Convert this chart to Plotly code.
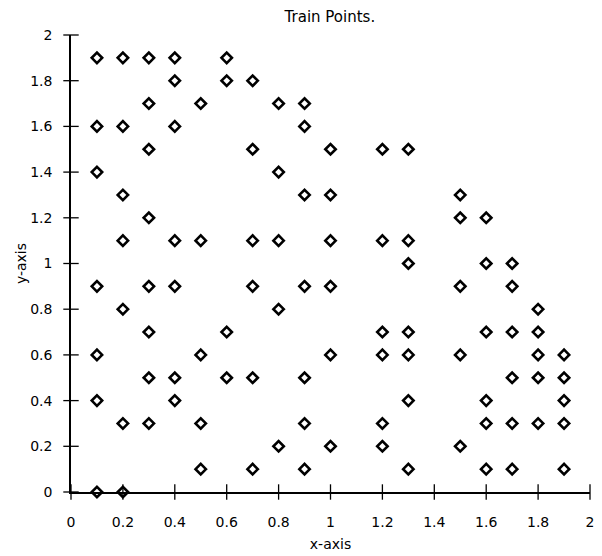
import plotly.graph_objects as go

# Training points, grouped by row (y value) for readability
rows_y = [1.9, 1.8, 1.7, 1.6, 1.5, 1.4, 1.3, 1.2, 1.1, 1.0,
          0.9, 0.8, 0.7, 0.6, 0.5, 0.4, 0.3, 0.2, 0.1, 0.0]
rows_x = [
    [0.1, 0.2, 0.3, 0.4, 0.6],
    [0.4, 0.6, 0.7],
    [0.3, 0.5, 0.8, 0.9],
    [0.1, 0.2, 0.4, 0.9],
    [0.3, 0.7, 1.0, 1.2, 1.3],
    [0.1, 0.8],
    [0.2, 0.9, 1.0, 1.5],
    [0.3, 1.5, 1.6],
    [0.2, 0.4, 0.5, 0.7, 0.8, 1.0, 1.2, 1.3],
    [1.3, 1.6, 1.7],
    [0.1, 0.3, 0.4, 0.7, 0.9, 1.0, 1.5, 1.7],
    [0.2, 0.8, 1.8],
    [0.3, 0.6, 1.2, 1.3, 1.6, 1.7, 1.8],
    [0.1, 0.5, 1.0, 1.2, 1.3, 1.5, 1.8, 1.9],
    [0.3, 0.4, 0.6, 0.7, 0.9, 1.7, 1.8, 1.9],
    [0.1, 0.4, 1.3, 1.6, 1.9],
    [0.2, 0.3, 0.5, 0.9, 1.2, 1.6, 1.7, 1.8, 1.9],
    [0.8, 1.0, 1.2, 1.5],
    [0.5, 0.7, 0.9, 1.3, 1.6, 1.7, 1.9],
    [0.1, 0.2],
]

train_x = [x for xs in rows_x for x in xs]
train_y = [y for y, xs in zip(rows_y, rows_x) for _ in xs]

tick_vals = [0, 0.2, 0.4, 0.6, 0.8, 1, 1.2, 1.4, 1.6, 1.8, 2]
tick_text = ["0", "0.2", "0.4", "0.6", "0.8", "1", "1.2", "1.4", "1.6", "1.8", "2"]

FONT = "DejaVu Sans"

fig = go.Figure()

# tick marks crossing the axis lines, drawn as short line markers
fig.add_trace(go.Scatter(
    x=tick_vals, y=[0] * len(tick_vals), mode="markers", cliponaxis=False,
    marker=dict(symbol="line-ns-open", size=11, color="black",
                line=dict(color="black", width=1.3)),
    showlegend=False, hoverinfo="skip",
))
fig.add_trace(go.Scatter(
    x=[0] * len(tick_vals), y=tick_vals, mode="markers", cliponaxis=False,
    marker=dict(symbol="line-ew-open", size=11, color="black",
                line=dict(color="black", width=1.3)),
    showlegend=False, hoverinfo="skip",
))

fig.add_trace(go.Scatter(
    x=train_x, y=train_y, mode="markers", cliponaxis=False,
    marker=dict(symbol="diamond-open", size=8, color="black",
                line=dict(color="black", width=2.6)),
    showlegend=False,
))

axis_common = dict(range=[0, 2], tickvals=tick_vals, ticktext=tick_text,
                   showgrid=False, zeroline=False, showline=True,
                   linecolor="black", linewidth=1.5, ticks="",
                   tickfont=dict(size=14), automargin=False)

fig.update_layout(
    width=602, height=556,
    margin=dict(l=71, r=12, t=35, b=64),
    plot_bgcolor="white", paper_bgcolor="white",
    font=dict(family=FONT, size=14, color="black"),
    title=dict(text="Train Points.", x=0.548, xanchor="center",
               y=0.969, yanchor="middle", font=dict(size=15)),
    xaxis=dict(**axis_common, ticklabelstandoff=16,
               title=dict(text="x-axis", font=dict(size=14), standoff=11)),
    yaxis=dict(**axis_common, ticklabelstandoff=14,
               title=dict(text="y-axis", font=dict(size=14), standoff=0)),
)

fig.write_html("out.html")
